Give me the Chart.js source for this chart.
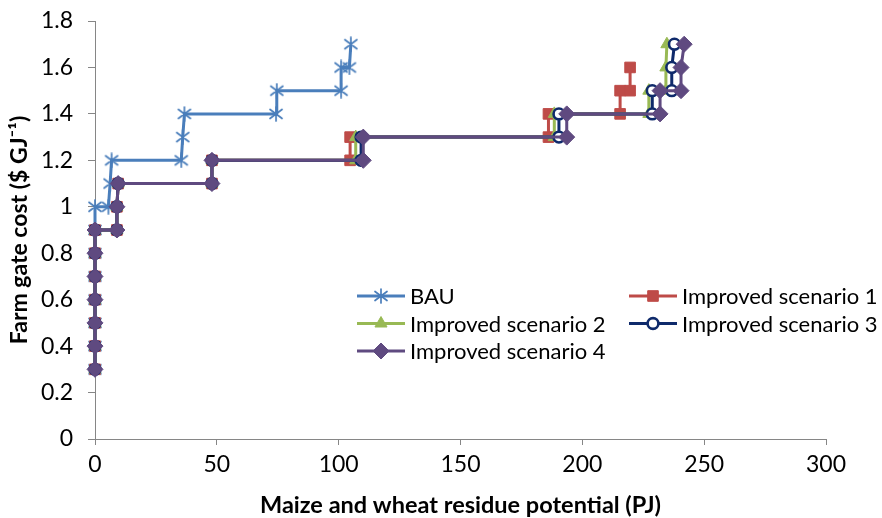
<!DOCTYPE html>
<html><head><meta charset="utf-8">
<script src="https://cdn.jsdelivr.net/npm/chart.js@4/dist/chart.umd.min.js"></script>
<style>html,body{margin:0;padding:0;background:#fff}#wrap{width:882px;height:518px;position:relative}</style>
</head><body><div id="wrap"><canvas id="c" width="882" height="518"></canvas></div>
<script>
// ---- data ----
const seriesNames = ['BAU', 'Improved scenario 1', 'Improved scenario 2', 'Improved scenario 3', 'Improved scenario 4'];

const bauX = [0, 0, 0, 0, 0, 0, 0, 0, 5.5, 6.2, 6.8, 35.4, 36, 36.7, 74.3, 74.6, 101, 101, 104.4, 105];
const bauY = [0.3, 0.4, 0.5, 0.6, 0.7, 0.8, 0.9, 1.0, 1.0, 1.1, 1.2, 1.2, 1.3, 1.4, 1.4, 1.5, 1.5, 1.6, 1.6, 1.7];

const s1X = [0, 0, 0, 0, 0, 0, 0, 9, 9, 9.5, 48, 48, 104.7, 104.7, 186.1, 186.1, 215.5, 215.5, 219.6, 219.6];
const s1Y = [0.3, 0.4, 0.5, 0.6, 0.7, 0.8, 0.9, 0.9, 1.0, 1.1, 1.1, 1.2, 1.2, 1.3, 1.3, 1.4, 1.4, 1.5, 1.5, 1.6];

const s2X = [0, 0, 0, 0, 0, 0, 0, 9, 9, 9.5, 48, 48, 107, 107, 188.5, 188.5, 227.3, 227.3, 234.3, 234.3, 234.7];
const s2Y = [0.3, 0.4, 0.5, 0.6, 0.7, 0.8, 0.9, 0.9, 1.0, 1.1, 1.1, 1.2, 1.2, 1.3, 1.3, 1.4, 1.4, 1.5, 1.5, 1.6, 1.7];

const s3X = [0, 0, 0, 0, 0, 0, 0, 9, 9, 9.5, 48, 48, 109.2, 109.2, 190.4, 190.4, 228.7, 228.7, 236.7, 236.7, 237.8];
const s3Y = [0.3, 0.4, 0.5, 0.6, 0.7, 0.8, 0.9, 0.9, 1.0, 1.1, 1.1, 1.2, 1.2, 1.3, 1.3, 1.4, 1.4, 1.5, 1.5, 1.6, 1.7];

const s4X = [0, 0, 0, 0, 0, 0, 0, 9, 9, 9.5, 48, 48, 110.1, 110.1, 193.6, 193.6, 231.9, 231.9, 240.5, 240.5, 241.8];
const s4Y = [0.3, 0.4, 0.5, 0.6, 0.7, 0.8, 0.9, 0.9, 1.0, 1.1, 1.1, 1.2, 1.2, 1.3, 1.3, 1.4, 1.4, 1.5, 1.5, 1.6, 1.7];

const xTicks = [0, 50, 100, 150, 200, 250, 300];
const yTicks = [0, 0.2, 0.4, 0.6, 0.8, 1, 1.2, 1.4, 1.6, 1.8];
const xTitle = 'Maize and wheat residue potential (PJ)';
const yTitle = 'Farm gate cost ($ GJ\u207B\u00B9)';

// ---- styles ----
const colors = ['#4A7EBB', '#BE4B48', '#98B954', '#0F2A6B', '#5F4A80'];
const FONT = 'Lato, "Liberation Sans", sans-serif';

function makeStar(color) {
  const c = document.createElement('canvas');
  c.width = 16; c.height = 16;
  const g = c.getContext('2d');
  g.strokeStyle = color; g.lineWidth = 1.7; g.lineCap = 'round';
  g.beginPath();
  g.moveTo(8, 1); g.lineTo(8, 15);
  g.moveTo(2, 3.5); g.lineTo(14, 12.5);
  g.moveTo(2, 12.5); g.lineTo(14, 3.5);
  g.stroke();
  return c;
}
const starImg = makeStar(colors[0]);

const pts = (xs, ys) => xs.map((x, i) => ({x: x, y: ys[i]}));

const styles = [
  {pointStyle: starImg, pointRadius: 8, bg: colors[0], bw: 1, order: 4},
  {pointStyle: 'rect', pointRadius: 7.5, bg: colors[1], bw: 1, order: 3},
  {pointStyle: 'triangle', pointRadius: 7, bg: colors[2], bw: 1, order: 2},
  {pointStyle: 'circle', pointRadius: 5.4, bg: '#ffffff', bw: 2.6, order: 1},
  {pointStyle: 'rectRot', pointRadius: 8, bg: colors[4], bw: 1, order: 0}
];
const dataSets = [pts(bauX, bauY), pts(s1X, s1Y), pts(s2X, s2Y), pts(s3X, s3Y), pts(s4X, s4Y)];

const datasets = dataSets.map((d, i) => ({
  label: seriesNames[i],
  data: d,
  showLine: true,
  clip: false,
  borderColor: colors[i],
  borderWidth: 3,
  pointStyle: styles[i].pointStyle,
  pointRadius: styles[i].pointRadius,
  pointHoverRadius: styles[i].pointRadius,
  pointBackgroundColor: styles[i].bg,
  pointBorderColor: colors[i],
  pointBorderWidth: styles[i].bw,
  order: styles[i].order,
  tension: 0
}));

// custom two-column legend placed inside the plot area
const legendPos = [
  {x: 357, y: 296}, {x: 629, y: 296},
  {x: 357, y: 323.5}, {x: 629, y: 323.5},
  {x: 357, y: 351}
];
const legendPlugin = {
  id: 'boxLegend',
  afterDraw(chart) {
    const ctx = chart.ctx;
    ctx.save();
    chart.data.datasets.forEach((ds, i) => {
      const p = legendPos[i];
      const len = 48;
      ctx.strokeStyle = ds.borderColor;
      ctx.lineWidth = 3;
      ctx.beginPath(); ctx.moveTo(p.x, p.y); ctx.lineTo(p.x + len, p.y); ctx.stroke();
      const cx = p.x + len / 2, cy = p.y;
      const r = styles[i].pointRadius;
      const st = styles[i].pointStyle;
      ctx.fillStyle = styles[i].bg;
      ctx.lineWidth = styles[i].bw;
      ctx.strokeStyle = ds.borderColor;
      ctx.beginPath();
      if (st === 'rect') {
        const s = Math.SQRT1_2 * r;
        ctx.rect(cx - s, cy - s, 2 * s, 2 * s); ctx.fill(); ctx.stroke();
      } else if (st === 'triangle') {
        ctx.moveTo(cx, cy - r);
        ctx.lineTo(cx + r * Math.sin(2 * Math.PI / 3), cy - r * Math.cos(2 * Math.PI / 3));
        ctx.lineTo(cx + r * Math.sin(4 * Math.PI / 3), cy - r * Math.cos(4 * Math.PI / 3));
        ctx.closePath(); ctx.fill(); ctx.stroke();
      } else if (st === 'circle') {
        ctx.arc(cx, cy, r, 0, Math.PI * 2); ctx.fill(); ctx.stroke();
      } else if (st === 'rectRot') {
        ctx.moveTo(cx, cy - r); ctx.lineTo(cx + r, cy); ctx.lineTo(cx, cy + r); ctx.lineTo(cx - r, cy);
        ctx.closePath(); ctx.fill(); ctx.stroke();
      } else {
        ctx.drawImage(st, cx - st.width / 2, cy - st.height / 2);
      }
      ctx.fillStyle = '#000';
      ctx.font = '22px ' + FONT;
      ctx.textBaseline = 'middle';
      ctx.textAlign = 'left';
      ctx.fillText(ds.label, p.x + len + 5, p.y + 1);
    });
    ctx.restore();
  }
};

new Chart(document.getElementById('c'), {
  type: 'scatter',
  data: {datasets: datasets},
  plugins: [legendPlugin],
  options: {
    responsive: false,
    animation: false,
    devicePixelRatio: 1,
    layout: {padding: {top: 21, right: 56, bottom: 0, left: 0}},
    plugins: {legend: {display: false}, tooltip: {enabled: false}},
    scales: {
      x: {
        type: 'linear', min: 0, max: 300,
        afterBuildTicks: (s) => { s.ticks = xTicks.map(v => ({value: v})); },
        afterFit: (s) => { s.height = 79; s.paddingLeft = 0; s.paddingRight = 0; },
        ticks: {color: '#000', font: {family: FONT, size: 23}, padding: 6, maxRotation: 0},
        grid: {drawOnChartArea: false, drawTicks: true, tickLength: 6, color: '#868686', lineWidth: 1},
        border: {color: '#868686', width: 1},
        title: {display: true, text: xTitle, color: '#000', font: {family: FONT, size: 23.5, weight: 'bold', lineHeight: 1.05}, padding: {top: 0, bottom: 0}}
      },
      y: {
        type: 'linear', min: 0, max: 1.8,
        afterBuildTicks: (s) => { s.ticks = yTicks.map(v => ({value: v})); },
        afterFit: (s) => { s.width = 95; s.paddingTop = 0; s.paddingBottom = 0; },
        ticks: {color: '#000', font: {family: FONT, size: 23}, padding: 15,
          callback: (v) => String(Number(Number(v).toFixed(1)))},
        grid: {drawOnChartArea: false, drawTicks: true, tickLength: 7, color: '#868686', lineWidth: 1},
        border: {color: '#868686', width: 1},
        title: {display: true, text: yTitle, color: '#000', font: {family: FONT, size: 23, weight: 'bold', lineHeight: 1.2}, padding: {top: 6, bottom: 0}}
      }
    }
  }
});
</script></body></html>
